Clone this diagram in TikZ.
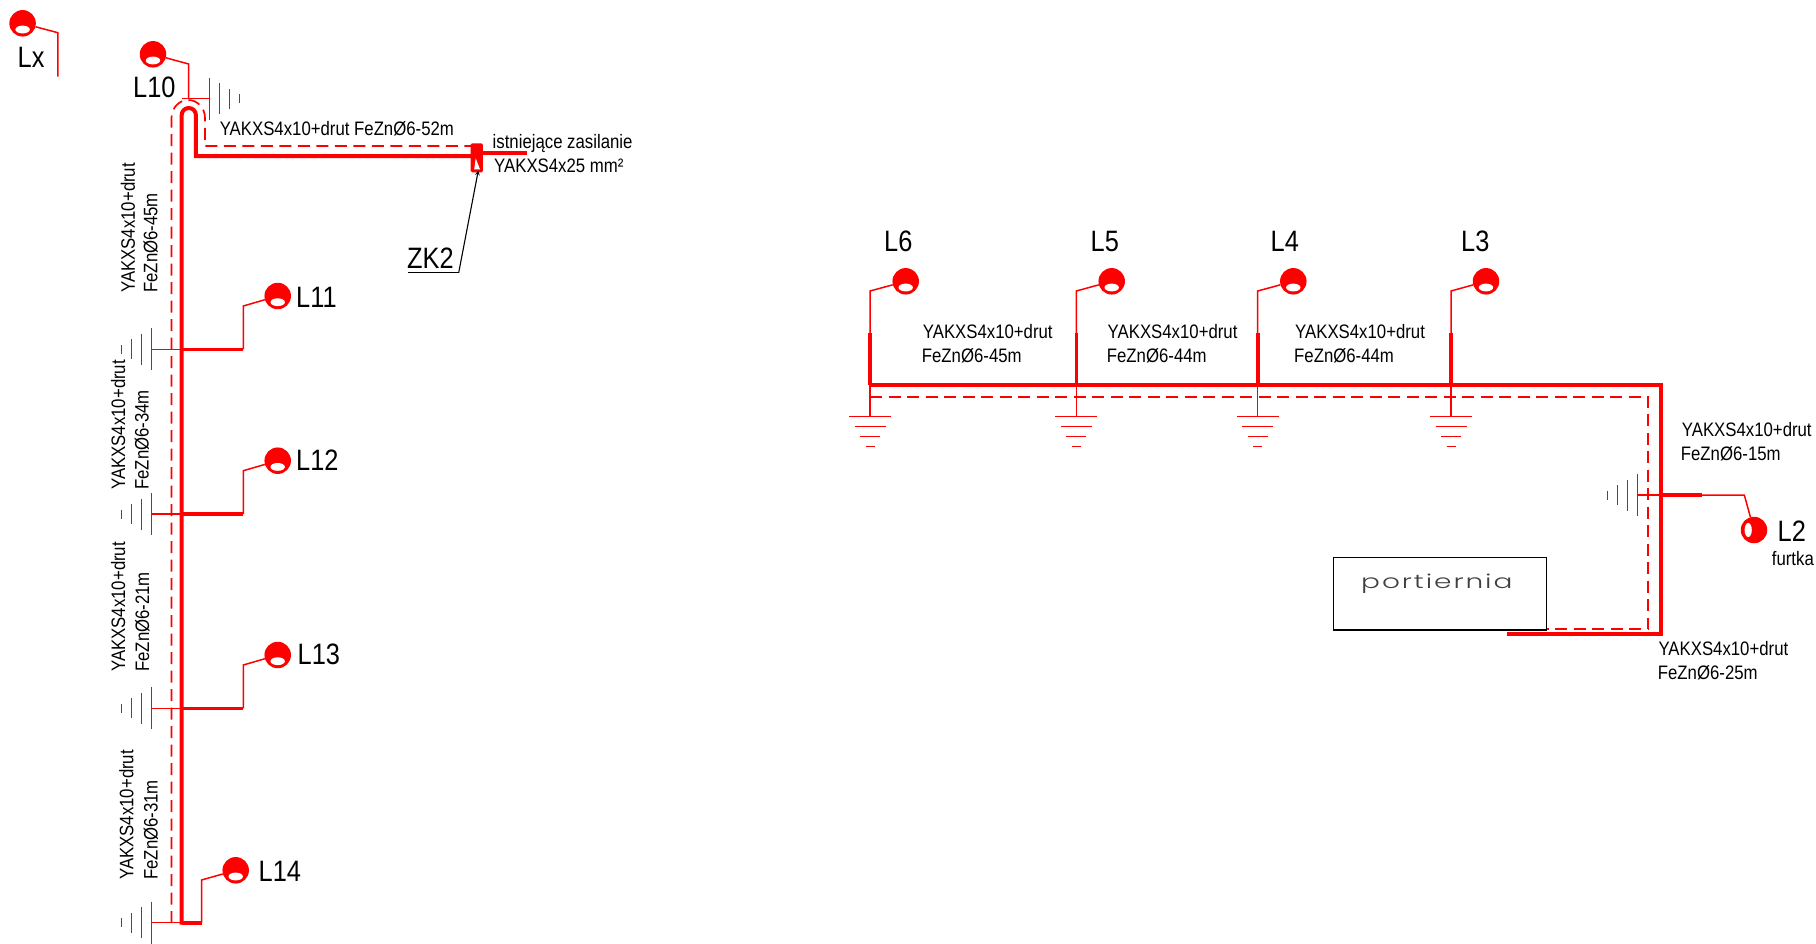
\documentclass[tikz,border=0pt]{standalone}
\usepackage{fontspec}
\setmainfont[FakeStretch=0.86]{Liberation Sans}
\newfontfamily\portfont[FakeStretch=1.45,LetterSpace=10]{Poppins Light}
\begin{document}
\begin{tikzpicture}
[x=1pt,y=-1pt,
  thinLine/.style={red,line width=1.5pt},%
  heavyLine/.style={red,line width=4pt,line join=miter},%
  stubLine/.style={red,line width=3.6pt},%
  dashLine/.style={red,line width=1.7pt,dash pattern=on 12pt off 6.5pt},%
  lampNode/.style={shape=circle,fill=red,inner sep=0pt,minimum size=26.5pt},%
  lampHole/.style={path picture={\fill[white]
    ([yshift=-6.2pt]path picture bounding box.center) ellipse (7.2pt and 3.9pt);}},%
  lampSide/.style={path picture={\fill[white]
    ([xshift=-5.8pt]path picture bounding box.center) ellipse (3.6pt and 7pt);}},%
  cableText/.style={anchor=base west,inner sep=0pt,font=\fontsize{19.5pt}{20pt}\selectfont},%
  lampText/.style={anchor=base west,inner sep=0pt,font=\fontsize{29.5pt}{30pt}\selectfont},%
  earthBars/.pic={
    \foreach \depth/\half in {0/21, 10/15.5, 20/10, 30/4.5}
      \draw[thinLine] (-\half,\depth) -- (\half,\depth);
  }]
\useasboundingbox (0,0) rectangle (1816,943);
%% lamps
\foreach \nodename/\x/\y in {
  Lx/22.6/23.3, L10/153/54.3, L11/277.7/296, L12/277.7/460.7, L13/277.7/655,
  L14/235.7/870.3, L6/905.7/281.3, L5/1111.7/281.3, L4/1293.3/281.3, L3/1486/281.3}
{
  \node (\nodename) at (\x,\y) [lampNode,lampHole] {};
}
\node (L2) at (1754,530) [lampNode,lampSide] {};
%% lamp names
\foreach \nodename/\x/\y/\txt in {
  nameLx/17.5/67/Lx, nameL10/133/97/L10, nameL11/296/307.3/L11, nameL12/296/470/L12,
  nameL13/297.5/664.3/L13, nameL14/258.5/881/L14, nameL6/884/251/L6, nameL5/1090.5/251/L5,
  nameL4/1270.5/251/L4, nameL3/1461/251/L3, nameL2/1777.5/541.7/L2, nameZK/407/268/ZK2}
{
  \node (\nodename) at (\x,\y) [lampText] {\txt};
}
%% cable texts
\foreach \nodename/\x/\y/\txt in {
  txtA/219.6/135.7/{YAKXS4x10+drut FeZnØ6-52m},
  txtB/492.5/148/{istniejące zasilanie},
  txtC/494/172/{YAKXS4x25 mm²},
  txtD/922.7/338.3/{YAKXS4x10+drut}, txtE/921.7/362.3/{FeZnØ6-45m},
  txtF/1107.5/338.3/{YAKXS4x10+drut}, txtG/1106.7/362.3/{FeZnØ6-44m},
  txtH/1295/338.3/{YAKXS4x10+drut}, txtI/1294/362.3/{FeZnØ6-44m},
  txtJ/1681.7/436.7/{YAKXS4x10+drut}, txtK/1680.7/460.7/{FeZnØ6-15m},
  txtL/1658.3/655/{YAKXS4x10+drut}, txtM/1657.7/679/{FeZnØ6-25m},
  txtN/1771.7/565.7/{furtka}}
{
  \node (\nodename) at (\x,\y) [cableText] {\txt};
}
\foreach \nodename/\x/\y/\txt in {
  vertA/134.8/293/{YAKXS4x10+drut}, vertB/157.4/293/{FeZnØ6-45m},
  vertC/125/490/{YAKXS4x10+drut}, vertD/148.5/490/{FeZnØ6-34m},
  vertE/125/672/{YAKXS4x10+drut}, vertF/149/672/{FeZnØ6-21m},
  vertG/133.3/880/{YAKXS4x10+drut}, vertH/157.7/880/{FeZnØ6-31m}}
{
  \node (\nodename) at (\x,\y) [cableText,rotate=90] {\txt};
}
%% left run
\coordinate (runBot) at (181.7,924.5);
\coordinate (riseR) at (195.9,156);
\coordinate (feedL) at (472,156);
\coordinate (feedOut) at (527.4,152.7);
\coordinate (dashEnd) at (472,146);
\node (zk) at (476.8,157.8) [shape=rectangle,fill=red,rounded corners=1.5pt,inner sep=0pt,
  minimum width=12.3pt,minimum height=29pt] {};
\fill[white] (475.7,158.3) -- (480,169.3) -- (474.2,169.3) -- cycle;
\draw[heavyLine] (runBot) -- (181.7,115) arc (180:360:7.1 and 7) -- (riseR) -- (feedL);
\draw[stubLine] (zk.east |- feedOut) -- (feedOut);
\draw[dashLine] (171.5,923) -- (171.5,118) arc (180:360:16.75 and 18) -- (205,146) -- (dashEnd);
%% leaders and earths on the left run
\foreach \bname/\y/\lamp/\ly/\bx in {
  b11/349.3/L11/306/243.3, b12/514/L12/470.7/243.3, b13/708.3/L13/665/243.3, b14/922.7/L14/880/201.5}
{
  \coordinate (\bname) at (181.7,\y);
  \coordinate (\bname e) at (\bx,\y);
  \coordinate (\bname g) at (151.3,\y);
  \draw[stubLine] (\bname) -- (\bname e);
  \draw[thinLine] (\bname e) -- (\bx,\ly) -- (\lamp);
  \draw[thinLine] (\bname) -- (\bname g);
  \pic[rotate=-90] at (\bname g) {earthBars};
}
\coordinate (earthTop) at (209.5,98.5);
\draw[thinLine] (181.5,98.5) -- (earthTop);
\pic[rotate=90] at (earthTop) {earthBars};
\draw[thinLine] (L10) -- (188.7,64) -- (188.7,98.5);
\draw[thinLine] (Lx) -- (57.8,32.7) -- (57.8,76.7);
\coordinate (zkUnder) at (407.5,272.7);
\coordinate (zkKnee) at (458.7,272.7);
\draw[black,line width=1.2pt] (zkUnder) -- (zkKnee);
\draw[-stealth,black,line width=1.1pt] (zkKnee) -- ([xshift=1.5pt,yshift=2pt]zk.south);
%% right run
\coordinate (topL) at (870,385);
\coordinate (topR) at (1660.7,385);
\coordinate (botR) at (1660.7,634);
\coordinate (botL) at (1506.7,634);
\draw[heavyLine] (topL) -- (topR) -- (botR) -- (botL);
\draw[dashLine] (870,397) -- (1648.3,397) -- (1648.3,629) -- (1546.7,629);
\foreach \bname/\x/\lamp in {t6/870/L6, t5/1076.3/L5, t4/1257.7/L4, t3/1451/L3}
{
  \coordinate (\bname) at (\x,385);
  \coordinate (\bname g) at (\x,416.7);
  \draw[stubLine] (\bname) -- (\x,333.3);
  \draw[thinLine] (\x,333.3) -- (\x,291) -- (\lamp);
  \draw[thinLine] (\bname) -- (\bname g);
  \pic at (\bname g) {earthBars};
}
\coordinate (tap) at (1660.7,495);
\coordinate (tapEnd) at (1701.7,495);
\coordinate (tapG) at (1637.3,495);
\draw[stubLine] (tap) -- (tapEnd);
\draw[thinLine] (tapEnd) -- (1744.3,495) -- (L2);
\draw[thinLine] (tap) -- (tapG);
\pic[rotate=-90] at (tapG) {earthBars};
%% lodge
\node (lodge) at (1440,593.6) [shape=rectangle,draw=black,line width=1.4pt,inner sep=0pt,
  minimum width=213.4pt,minimum height=72.7pt] {};
\node (lodgeName) at (1361,588) [anchor=base west,inner sep=0pt,text=black!75,
  font=\portfont\fontsize{19.3pt}{20pt}\selectfont] {portiernia};
\end{tikzpicture}
\end{document}
